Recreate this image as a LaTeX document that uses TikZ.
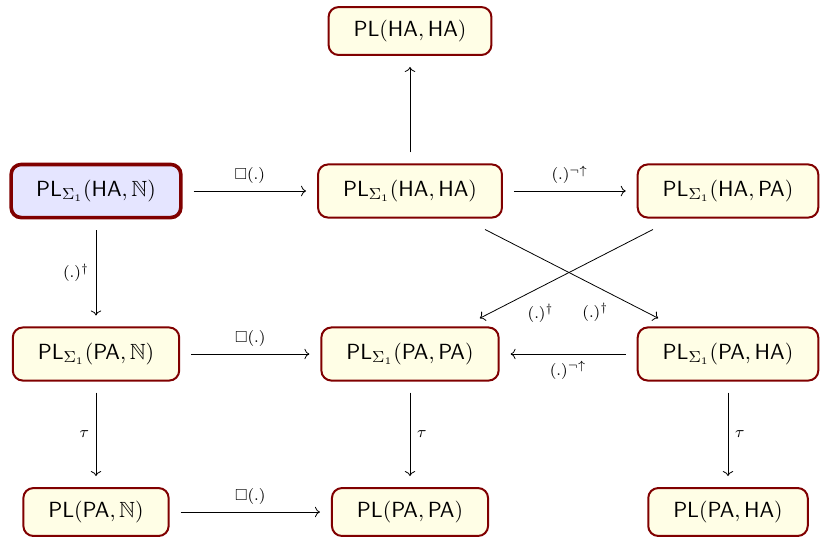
\documentclass[tikz,border=0pt]{standalone}
\usepackage{amsmath}
\usepackage{amssymb}
\usepackage{tikz}
\usepackage{xcolor}
\usetikzlibrary{arrows.meta}

\begin{document}
\begin{tikzpicture}[x=0.5pt, y=-0.5pt,
    logic/.style={draw=red!50!black, line width=1pt, fill=yellow!10, rounded corners=5pt, inner xsep=12.5pt, inner ysep=6.5pt, font=\fontsize{11}{13}\selectfont},
    sigma/.style={logic, inner ysep=7.8pt},
    start/.style={sigma, fill=blue!10, line width=1.8pt},
    map/.style={->, shorten <=5.5pt, shorten >=5.5pt},
    cross/.style={->, shorten <=12pt, shorten >=9pt},
    lbl/.style={font=\footnotesize}]
    \useasboundingbox (0,0) rectangle (820,538);

    % Logics
    \node [logic] (plhaha) at (410,31) {$\mathsf{PL}(\mathsf{HA},\mathsf{HA})$};

    \node [start] (shan) at (96,191) {$\mathsf{PL}_{\Sigma_1}(\mathsf{HA},\mathbb{N})$};
    \node [sigma] (shaha) at (410,191) {$\mathsf{PL}_{\Sigma_1}(\mathsf{HA},\mathsf{HA})$};
    \node [sigma] (shapa) at (728,191) {$\mathsf{PL}_{\Sigma_1}(\mathsf{HA},\mathsf{PA})$};

    \node [sigma] (span) at (96,354) {$\mathsf{PL}_{\Sigma_1}(\mathsf{PA},\mathbb{N})$};
    \node [sigma] (spapa) at (410,354) {$\mathsf{PL}_{\Sigma_1}(\mathsf{PA},\mathsf{PA})$};
    \node [sigma] (spaha) at (728,354) {$\mathsf{PL}_{\Sigma_1}(\mathsf{PA},\mathsf{HA})$};

    \node [logic] (plpan) at (96,512) {$\mathsf{PL}(\mathsf{PA},\mathbb{N})$};
    \node [logic] (plpapa) at (410,512) {$\mathsf{PL}(\mathsf{PA},\mathsf{PA})$};
    \node [logic] (plpaha) at (728,512) {$\mathsf{PL}(\mathsf{PA},\mathsf{HA})$};

    % Translations
    \draw [map] (shan) -- (shaha) node[lbl, midway, above] {$\Box(.)$};
    \draw [map] (shaha) -- (shapa) node[lbl, midway, above] {$(.)^{\neg\uparrow}$};
    \draw [map] (shaha) -- (plhaha);
    \draw [map] (shan) -- (span) node[lbl, midway, left] {$(.)^{\dagger}$};

    \draw [cross] (shaha) -- (spaha) node[lbl, pos=0.72, below left] {$(.)^{\dagger}$};
    \draw [cross] (shapa) -- (spapa) node[lbl, pos=0.73, below right] {$(.)^{\dagger}$};

    \draw [map] (span) -- (spapa) node[lbl, midway, above] {$\Box(.)$};
    \draw [map] (spaha) -- (spapa) node[lbl, midway, below] {$(.)^{\neg\uparrow}$};

    \draw [map] (span) -- (plpan) node[lbl, midway, left] {$\tau$};
    \draw [map] (spapa) -- (plpapa) node[lbl, midway, right] {$\tau$};
    \draw [map] (spaha) -- (plpaha) node[lbl, midway, right] {$\tau$};
    \draw [map] (plpan) -- (plpapa) node[lbl, midway, above] {$\Box(.)$};
\end{tikzpicture}
\end{document}
